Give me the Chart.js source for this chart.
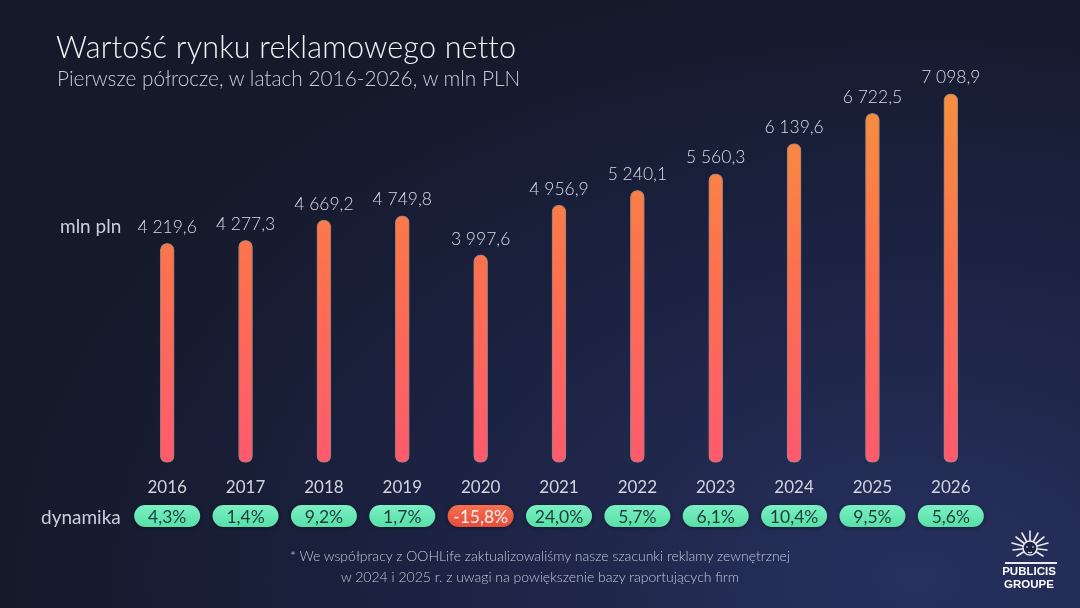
<!DOCTYPE html>
<html lang="pl">
<head>
<meta charset="utf-8">
<script src="https://cdn.jsdelivr.net/npm/chart.js@4.4.1/dist/chart.umd.min.js"></script>
<style>
	html, body { margin: 0; padding: 0; }
	body {
		width: 1080px; height: 608px; overflow: hidden; position: relative;
		font-family: 'Lato', 'Noto Sans', sans-serif;
		background: radial-gradient(ellipse 900px 600px at 85% 95%, #27315f 0%, #1c2242 55%, #151a2b 100%);
	}
	#wrap { position: absolute; left: 0; top: 0; width: 1080px; height: 608px; }
	.txt { position: absolute; white-space: nowrap; }
	#title { left: 56px; top: 28px; font-size: 30.5px; color: #f2f3f7; font-weight: 300; letter-spacing: 0.2px; }
	#subtitle { left: 57px; top: 65px; font-size: 20.8px; color: #c9ccd8; font-weight: 300; }
	#unit { left: 60px; top: 214px; font-size: 19px; color: #cdd0da; }
	#dyn { left: 41px; top: 505px; font-size: 19px; color: #cdd0da; }
	#note { left: 0; width: 1080px; top: 545px; text-align: center; font-size: 14px; line-height: 21px; color: #c3c7d3; font-weight: 300; }
	#logo { left: 998px; top: 528px; width: 62px; text-align: center; color: #fff; font-family: 'Liberation Sans', Arial, sans-serif; font-weight: bold; font-size: 11.5px; line-height: 13px; }
	#logo .rule { height: 2px; background: #e8e8ee; margin: 2px 3px 1px 7px; }
</style>
</head>
<body>
<div id="wrap"><canvas id="chart"></canvas></div>
<div class="txt" id="title">Wartość rynku reklamowego netto</div>
<div class="txt" id="subtitle">Pierwsze półrocze, w latach 2016-2026, w mln PLN</div>
<div class="txt" id="unit">mln pln</div>
<div class="txt" id="dyn">dynamika</div>
<div class="txt" id="note">* We współpracy z OOHLife zaktualizowaliśmy nasze szacunki reklamy zewnętrznej<br>w 2024 i 2025 r. z uwagi na powiększenie bazy raportujących firm</div>
<div class="txt" id="logo">
	<svg width="44" height="32" viewBox="0 0 44 32" style="display:block;margin:0 0 0 10px">
		<g stroke="#e9e9ef" stroke-width="1.6" fill="none" stroke-linecap="round">
			<path d="M22 20 L22 3 M22 20 L14 5 M22 20 L30 5 M22 20 L8 9 M22 20 L36 9 M22 20 L4 15 M22 20 L40 15 M22 20 L5 22 M22 20 L39 22 M22 20 L9 28 M22 20 L35 28"/>
		</g>
		<circle cx="22" cy="20" r="7" fill="#1b2140" stroke="#e9e9ef" stroke-width="1.4"/>
		<path d="M18 19 h2 M24 19 h2 M20 24 q2 1.5 4 0" stroke="#e9e9ef" stroke-width="1.2" fill="none"/>
	</svg>
	<div class="rule"></div>
	<div>PUBLICIS</div>
	<div>GROUPE</div>
</div>
<script>
const years = ['2016', '2017', '2018', '2019', '2020', '2021', '2022', '2023', '2024', '2025', '2026'];
const marketValues = [4219.6, 4277.3, 4669.2, 4749.8, 3997.6, 4956.9, 5240.1, 5560.3, 6139.6, 6722.5, 7098.9];
const growthRates = [4.3, 1.4, 9.2, 1.7, -15.8, 24.0, 5.7, 6.1, 10.4, 9.5, 5.6];

function fmtValue(v){
	const parts = v.toFixed(1).split('.');
	const int = parts[0].replace(/\B(?=(\d{3})+(?!\d))/g, ' ');
	return int + ',' + parts[1];
}
function fmtRate(v){
	return v.toFixed(1).replace('.', ',') + '%';
}

function barGradient(context){
	const area = context.chart.chartArea;
	if (!area) return '#ff7a50';
	const g = context.chart.ctx.createLinearGradient(0, area.bottom, 0, area.top);
	g.addColorStop(0, '#ff5a6e');
	g.addColorStop(0.45, '#fd704f');
	g.addColorStop(1, '#f5983a');
	return g;
}

function roundRect(ctx, x, y, w, h, r){
	ctx.beginPath();
	ctx.moveTo(x + r, y);
	ctx.arcTo(x + w, y, x + w, y + h, r);
	ctx.arcTo(x + w, y + h, x, y + h, r);
	ctx.arcTo(x, y + h, x, y, r);
	ctx.arcTo(x, y, x + w, y, r);
	ctx.closePath();
}

// value labels above bars + dynamika badges under the years
const overlay = {
	id: 'overlay',
	afterDatasetsDraw(chart){
		const ctx = chart.ctx;
		const meta = chart.getDatasetMeta(0);
		const xScale = chart.scales.x;
		ctx.save();
		ctx.font = '300 17.5px Lato, "Noto Sans", sans-serif';
		ctx.fillStyle = '#d9dce5';
		ctx.textAlign = 'center';
		ctx.textBaseline = 'middle';
		meta.data.forEach((bar, i) => {
			ctx.fillText(fmtValue(marketValues[i]), bar.x, bar.y - 16);
		});
		const bw = 66, bh = 22, cy = 516;
		growthRates.forEach((r, i) => {
			const cx = xScale.getPixelForValue(i);
			const neg = r < 0;
			const g = ctx.createLinearGradient(0, cy - bh / 2, 0, cy + bh / 2);
			if (neg) { g.addColorStop(0, '#f6704f'); g.addColorStop(1, '#e44c3c'); }
			else { g.addColorStop(0, '#7cf0c4'); g.addColorStop(1, '#57dfa6'); }
			ctx.shadowColor = 'rgba(0,0,0,0.35)';
			ctx.shadowBlur = 4;
			ctx.shadowOffsetY = 1;
			roundRect(ctx, cx - bw / 2, cy - bh / 2, bw, bh, bh / 2);
			ctx.fillStyle = g;
			ctx.fill();
			ctx.shadowColor = 'transparent';
			ctx.fillStyle = neg ? '#fff1ee' : '#1c3b3c';
			ctx.font = '17.5px Lato, "Noto Sans", sans-serif';
			ctx.fillText(fmtRate(r), cx, cy + 1);
		});
		ctx.restore();
	}
};

new Chart(document.getElementById('chart'), {
	type: 'bar',
	data: {
		labels: years,
		datasets: [{
			data: marketValues,
			backgroundColor: barGradient,
			borderColor: 'rgba(255,205,175,0.55)',
			borderWidth: 1,
			borderSkipped: false,
			borderRadius: 7,
			barThickness: 14
		}]
	},
	options: {
		responsive: true,
		maintainAspectRatio: false,
		animation: false,
		layout: { padding: { left: 128, right: 90, top: 47, bottom: 103 } },
		plugins: { legend: { display: false }, tooltip: { enabled: false } },
		scales: {
			x: {
				grid: { display: false },
				border: { display: false },
				ticks: { color: '#d2d5de', padding: 7, font: { size: 17, family: 'Lato, "Noto Sans", sans-serif' } }
			},
			y: { display: false, min: 0, max: 8000 }
		}
	},
	plugins: [overlay]
});
</script>
</body>
</html>
